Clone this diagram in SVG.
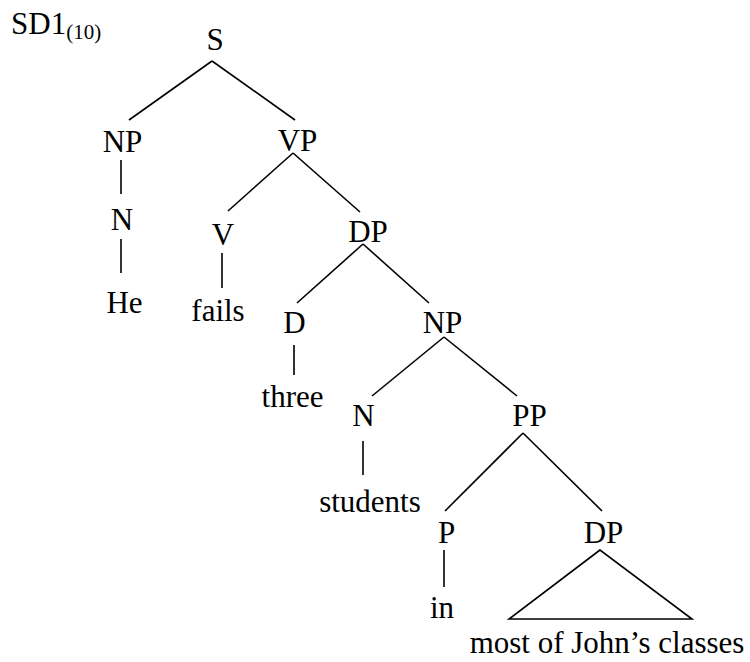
<svg xmlns="http://www.w3.org/2000/svg" width="750" height="662" viewBox="0 0 750 662">
<style>
text{font-family:"Liberation Serif","Times New Roman",serif;font-size:31px;fill:#000;text-anchor:middle}
.sub{font-size:21px;text-anchor:start}
.conn line,.conn polygon{stroke:#000;stroke-width:1.6;fill:none;stroke-linecap:butt}
</style>
<rect width="750" height="662" fill="#fff"/>
<g id="title"><text x="11" y="34" style="text-anchor:start">SD1<tspan class="sub" dy="5">(10)</tspan></text></g>
<g class="conn" id="connectors">
<line x1="212" y1="61" x2="129" y2="120"/>
<line x1="212" y1="61" x2="295" y2="120"/>
<line x1="121" y1="160" x2="121" y2="194"/>
<line x1="121" y1="239" x2="121" y2="273"/>
<line x1="293" y1="153" x2="228" y2="211"/>
<line x1="293" y1="153" x2="360" y2="212"/>
<line x1="222" y1="253" x2="222" y2="288"/>
<line x1="363" y1="244" x2="297" y2="303"/>
<line x1="363" y1="244" x2="429" y2="303"/>
<line x1="294" y1="345" x2="294" y2="375"/>
<line x1="444" y1="337" x2="372" y2="396"/>
<line x1="444" y1="337" x2="517" y2="396"/>
<line x1="363" y1="441" x2="363" y2="475"/>
<line x1="523" y1="433" x2="445" y2="511"/>
<line x1="523" y1="433" x2="602" y2="511"/>
<line x1="444" y1="550" x2="444" y2="587"/>
<polygon points="600,550 509,619 692,619"/>
</g>
<g id="S"><text x="215" y="50">S</text></g>
<g id="NP1"><text x="122.5" y="152">NP</text></g>
<g id="VP"><text x="297.5" y="151">VP</text></g>
<g id="N1"><text x="122" y="230">N</text></g>
<g id="He"><text x="124.5" y="313">He</text></g>
<g id="V"><text x="223" y="245">V</text></g>
<g id="fails"><text x="218" y="321">fails</text></g>
<g id="DP1"><text x="368" y="242">DP</text></g>
<g id="D"><text x="294.5" y="333">D</text></g>
<g id="three"><text x="292.5" y="407">three</text></g>
<g id="NP2"><text x="442.5" y="333">NP</text></g>
<g id="N2"><text x="363.5" y="426">N</text></g>
<g id="students"><text x="370" y="512">students</text></g>
<g id="PP"><text x="529.5" y="426">PP</text></g>
<g id="P"><text x="446.5" y="543">P</text></g>
<g id="in"><text x="442" y="618">in</text></g>
<g id="DP2"><text x="603.5" y="543">DP</text></g>
<g id="phrase"><text x="607" y="653">most of John’s classes</text></g>
</svg>
